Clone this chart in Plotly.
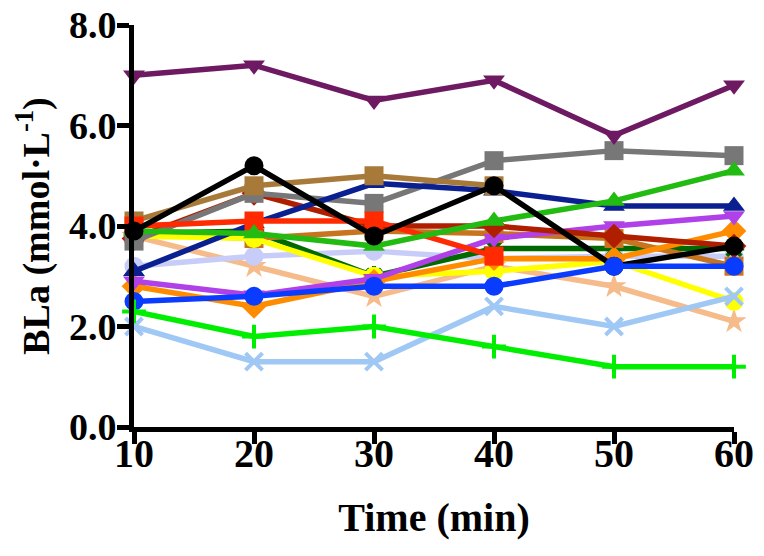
import plotly.graph_objects as go

times = [10, 20, 30, 40, 50, 60]

# Each series: (name, colour, symbol, values)
s_peach = [3.8, 3.2, 2.6, 3.2, 2.8, 2.1]
s_lavender = [3.2, 3.4, 3.5, 3.35, 3.4, 3.4]
s_darkgreen = [3.85, 3.9, 3.0, 3.55, 3.55, 3.55]
s_darkorange = [3.85, 3.75, 3.9, 3.85, 3.75, 3.2]
s_yellow = [3.8, 3.75, 3.0, 3.1, 3.3, 2.5]
s_orange = [2.8, 2.4, 2.9, 3.35, 3.35, 3.9]
s_violet = [2.9, 2.62, 2.95, 3.75, 4.0, 4.2]
s_darkred = [3.75, 4.65, 4.0, 4.0, 3.8, 3.6]
s_gray = [3.7, 4.65, 4.45, 5.3, 5.5, 5.4]
s_navy = [3.1, 4.05, 4.85, 4.7, 4.4, 4.4]
s_brown = [4.1, 4.8, 5.0, 4.8, None, None]
s_red = [4.0, 4.1, 4.1, 3.4, None, None]
s_green = [3.9, 3.85, 3.6, 4.1, 4.5, 5.1]
s_black = [3.9, 5.2, 3.8, 4.8, 3.2, 3.6]
s_blue = [2.5, 2.6, 2.8, 2.8, 3.2, 3.2]
s_lightblue = [2.0, 1.3, 1.3, 2.4, 2.0, 2.6]
s_brightgreen = [2.3, 1.8, 2.0, 1.6, 1.2, 1.2]
s_purple = [7.0, 7.2, 6.5, 6.9, 5.8, 6.8]

series = [
    ("peach", "#f5bb8a", "star", s_peach),
    ("lavender", "#c8ccf8", "circle", s_lavender),
    ("darkgreen", "#006a00", "asterisk-open", s_darkgreen),
    ("darkorange", "#c8741e", "square", s_darkorange),
    ("yellow", "#ffff00", "circle", s_yellow),
    ("orange", "#ff8c00", "diamond", s_orange),
    ("violet", "#b040e8", "triangle-down", s_violet),
    ("darkred", "#b01e00", "diamond", s_darkred),
    ("gray", "#777777", "square", s_gray),
    ("navy", "#0a2090", "triangle-up", s_navy),
    ("brown", "#a87a3a", "square", s_brown),
    ("red", "#ff2a00", "square", s_red),
    ("green", "#22bb11", "triangle-up", s_green),
    ("black", "#000000", "circle", s_black),
    ("blue", "#0a3cff", "circle", s_blue),
    ("lightblue", "#a0c8f4", "x-thin-open", s_lightblue),
    ("brightgreen", "#00ee00", "cross-thin-open", s_brightgreen),
    ("purple", "#6e1a62", "triangle-down", s_purple),
]

fig = go.Figure()
for name, col, sym, vals in series:
    thin = sym.endswith("-open")
    fig.add_trace(go.Scatter(
        x=times, y=vals, name=name, mode="lines+markers",
        line=dict(color=col, width=5.5),
        marker=dict(symbol=sym, size=19 if not thin else 17, color=col,
                    line=dict(color=col, width=4 if thin else 0)),
        cliponaxis=False, connectgaps=False,
    ))

font_family = "Liberation Serif"
# page body has an 8px margin, so the figure is sized to fit inside it
fig.update_layout(
    width=748, height=540,
    margin=dict(l=126, r=22, t=17, b=121),
    plot_bgcolor="white", paper_bgcolor="white",
    showlegend=False,
    font=dict(family=font_family, color="black"),
)
fig.update_xaxes(
    range=[10, 60], tickvals=times, ticktext=[str(t) for t in times],
    showgrid=False, zeroline=False, automargin=False,
    showline=True, linecolor="black", linewidth=5,
    ticks="outside", ticklen=12, tickwidth=5, tickcolor="black",
    ticklabeloverflow="allow", ticklabelstandoff=-25,
    tickfont=dict(size=40, family=font_family, weight="bold"),
    title=dict(text="<b>Time (min)</b>", font=dict(size=40, family=font_family), standoff=29),
)
fig.update_yaxes(
    range=[0, 8], tickvals=[0, 2, 4, 6, 8], ticktext=["0.0", "2.0", "4.0", "6.0", "8.0"],
    showgrid=False, zeroline=False, automargin=False,
    showline=True, linecolor="black", linewidth=5,
    ticks="outside", ticklen=12, tickwidth=5, tickcolor="black",
    ticklabeloverflow="allow", ticklabelstandoff=-7,
    tickfont=dict(size=38, family=font_family, weight="bold"),
    title=dict(text="<b>BLa (mmol·L<sup>-1</sup>)</b>", font=dict(size=38, family=font_family), standoff=9),
)
fig.write_html("out.html")
